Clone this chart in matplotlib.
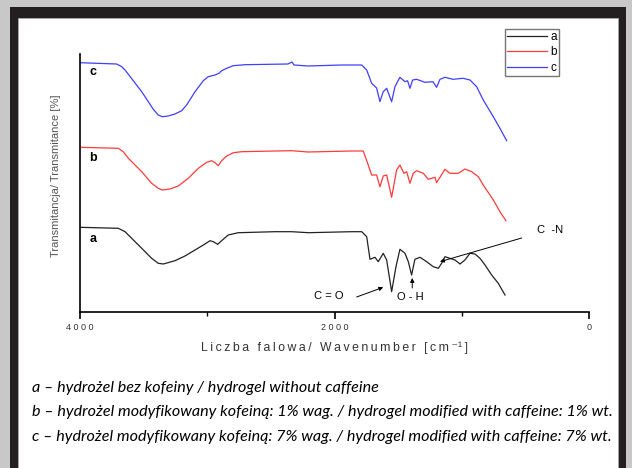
import matplotlib.pyplot as plt
from matplotlib.patches import Rectangle

# wavenumbers [cm-1] and transmittance (arbitrary units, stacked)
wn_c = [4000, 3712, 3672, 3646, 3515, 3424, 3385, 3353, 3306, 3254, 3201, 3162, 3096, 3031, 2992,
        2939, 2908, 2887, 2847, 2795, 2703, 2366, 2334, 2318,
        2208, 1941, 1786, 1747, 1708, 1669, 1643, 1617, 1590, 1551, 1525, 1486, 1446, 1426, 1407,
        1386, 1355, 1289, 1226, 1198, 1171, 1132, 1069, 990, 935, 883, 831, 752, 700, 647]
t_c = [249.3, 248, 245.3, 242, 220.3, 202.7, 197, 195.3, 196, 198, 201.3, 207, 220.3, 231.3, 235.3,
       237, 238.7, 241.3, 243.7, 246.3, 247.3, 248, 250, 247,
       246, 247, 247, 242, 228.7, 224, 210.3, 220.3, 223.7, 210.3, 225.3, 234.7, 230.3, 231.3, 223.7,
       232, 232.7, 229.7, 230.3, 224.7, 232.7, 234.7, 232.7, 233.7, 232, 225.3, 212, 195.3, 183.7, 171.3]

wn_b = [4000, 3699, 3660, 3620, 3515, 3437, 3385, 3353, 3293, 3228, 3149, 3070, 3004, 2965, 2939,
        2913, 2887, 2847, 2795, 2730, 2468, 2336,
        2208, 1865, 1774, 1735, 1708, 1669, 1643, 1617, 1590, 1551, 1512, 1486, 1454, 1433, 1407,
        1381, 1355, 1302, 1263, 1210, 1198, 1171, 1132, 1093, 1027, 975, 922, 870, 831, 752, 700, 653]
t_b = [164.7, 163.7, 160.3, 153.7, 140.3, 128.7, 123.7, 122, 123, 126, 133.7, 143.7, 149.7, 151.3, 149.3,
       146.3, 151.3, 156, 159.3, 160.3, 161, 161.3,
       160, 161, 161, 147, 137, 137, 125.3, 136, 137, 114.7, 142, 147, 138.7, 140.3, 128.7,
       138.7, 141.3, 138.7, 132.7, 134.7, 129.3, 134.7, 142.7, 138.7, 138.7, 143, 140.3, 135.3, 127, 112, 100.3, 91.3]

wn_a = [4000, 3699, 3646, 3515, 3437, 3385, 3345, 3254, 3175, 3096, 3018, 2978, 2953, 2918, 2887,
        2835, 2756, 2468, 2336, 2206, 1865,
        1786, 1747, 1721, 1682, 1656, 1617, 1590, 1551, 1517, 1486, 1446, 1420, 1394, 1368, 1328,
        1276, 1224, 1184, 1158, 1132, 1093, 1053, 1014, 975, 935, 896, 857, 817, 765, 713, 660]
t_a = [84.7, 83.7, 80.3, 63.7, 53.7, 48.7, 48, 51.3, 56, 62, 68, 71.3, 70.3, 67.7, 71.3,
       77, 79.3, 80.3, 80.3, 79.3, 80.3,
       80.3, 75.3, 52.7, 54.7, 50.3, 58.7, 52, 20.3, 45.3, 62.7, 58.7, 50.3, 37, 52.7, 54.7,
       50.3, 45.3, 43.7, 48.7, 55.3, 53.7, 52, 48, 52, 58.7, 58, 53.7, 47, 37, 28.7, 17]

series_names = ['a', 'b', 'c']
series_colors = ['#222222', '#ff3b3b', '#3f3fff']

captions = [
    'a \u2013 hydrożel bez kofeiny / hydrogel without caffeine',
    'b \u2013 hydrożel modyfikowany kofeiną: 1% wag. / hydrogel modified with caffeine: 1% wt.',
    'c \u2013 hydrożel modyfikowany kofeiną: 7% wag. / hydrogel modified with caffeine: 7% wt.',
]

fig = plt.figure(figsize=(6.32, 4.68), dpi=100)
fig.patch.set_facecolor('#c8c8c8')
# dark frame and white page
fig.patches.append(Rectangle((10 / 632, 0), 616 / 632, 1 - 7 / 468, transform=fig.transFigure,
                             facecolor='#231f20', edgecolor='none', zorder=-5))
fig.patches.append(Rectangle((18 / 632, 0), 600 / 632, 1 - 18 / 468, transform=fig.transFigure,
                             facecolor='white', edgecolor='#aaaaaa', linewidth=0.6, zorder=-4))

ax = fig.add_axes([80 / 632, 1 - 312 / 468, 509 / 632, 258 / 468])
ax.set_facecolor('none')

for wn, t, name, col in zip([wn_a, wn_b, wn_c], [t_a, t_b, t_c], series_names, series_colors):
    ax.plot(wn, t, color=col, linewidth=0.9, label=name)

ax.set_xlim(4000, 0)
ax.set_ylim(0, 258)
ax.spines['top'].set_visible(False)
ax.spines['right'].set_visible(False)
ax.spines['left'].set_linewidth(1.2)
ax.spines['bottom'].set_linewidth(1.2)
ax.set_yticks([])
ax.set_xticks([4000, 2000, 0])
ax.set_xticklabels(['4 0 0 0', '2 0 0 0', '0'], fontsize=6.5, color='#333333',
                   family='Liberation Sans')
ax.set_xticks([3000, 1000], minor=True)
ax.tick_params(axis='x', which='major', direction='out', length=5, width=1.2, pad=3)
ax.tick_params(axis='x', which='minor', direction='out', length=3, width=1.0)

xlab = '\u2009'.join('Liczba falowa/ Wavenumber [cm') + '\u2009\u207b\u00b9\u2009]'
ax.set_xlabel(xlab, fontsize=8.8, color='#333333',
              family=['Liberation Sans', 'DejaVu Sans'], labelpad=7)
ax.set_ylabel('Transmitancja/ Transmitance [%]', fontsize=8, color='#555555',
              family='Liberation Sans')
ax.yaxis.set_label_coords(-0.037, 0.53)

# curve letters
for name, y in zip(['c', 'b', 'a'], [239.7, 153.7, 72.7]):
    ax.text(3900, y, name, fontsize=9, fontweight='bold', ha='center', va='center',
            family='Liberation Sans')

# band annotations
arrow = dict(arrowstyle='-|>', color='black', lw=0.7, mutation_scale=6, shrinkA=0, shrinkB=0)
ax.text(2045, 16, 'C = O', fontsize=8, ha='center', va='center', family='Liberation Sans')
ax.annotate('', xy=(1617, 24.7), xytext=(1826, 15), arrowprops=arrow)
ax.text(1404, 15, 'O - H', fontsize=8, ha='center', va='center', family='Liberation Sans')
ax.annotate('', xy=(1389, 34), xytext=(1389, 24), arrowprops=arrow)
ax.text(307, 82, 'C  -N', fontsize=8, ha='center', va='center', family='Liberation Sans')
ax.annotate('', xy=(1171, 50.3), xytext=(529, 74), arrowprops=arrow)

leg = ax.legend(loc='upper right', bbox_to_anchor=(559 / 632, 1 - 29 / 468),
                bbox_transform=fig.transFigure, fancybox=False, frameon=True,
                edgecolor='#555555', handlelength=3.4, handletextpad=0.3, labelspacing=0.3,
                borderpad=0.15, borderaxespad=0, prop={'family': 'Liberation Sans', 'size': 8.5})
leg.get_frame().set_linewidth(1.0)

for i, txt in enumerate(captions):
    fig.text(32 / 632, 1 - (388 + 24.3 * i) / 468, txt, fontsize=11.65, style='italic',
             family='Lato', va='center', ha='left')

fig.savefig('out.png', dpi=100)
